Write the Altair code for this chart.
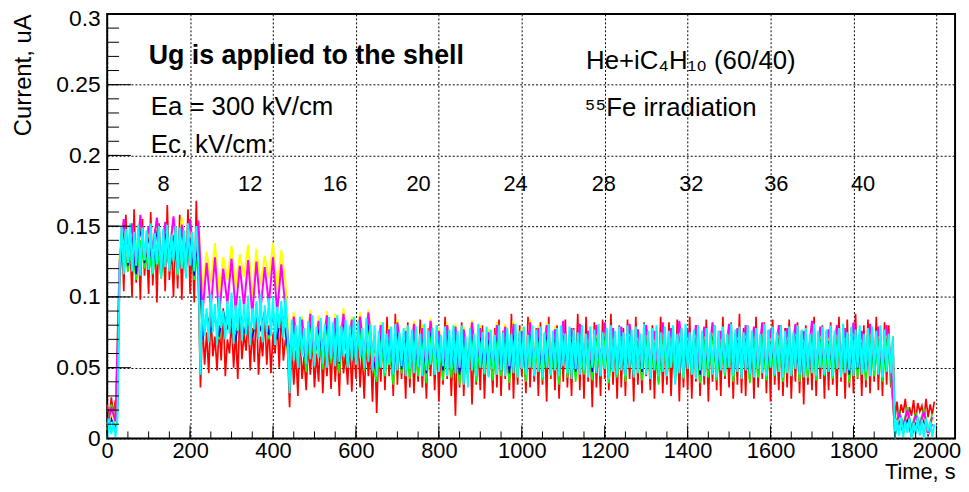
import altair as alt
import pandas as pd

FONT = "Liberation Sans"

# ---------------- data (current in units of 0.001 uA) ----------------
STEP_FINE = 5      # s  (red, cyan)
STEP_COARSE = 10   # s  (green, blue, yellow, magenta)
seg_start_fine = [0, 30, 225, 440, 1900]
seg_start_coarse = [0, 30, 230, 440, 1900]

red_base = [24, 14, 29, 17, 27, 19]
red_ec8 = [112, 150, 104, 158, 118, 140, 100, 162, 110, 145, 98, 155, 115, 138, 102, 160, 108, 148, 96, 152,
           120, 142, 104, 165, 112, 136, 100, 150, 106, 158, 98, 144, 114, 162, 102, 140, 96, 168, 108]
red_ec12 = [36, 82, 52, 75, 46, 88, 58, 72, 48, 80, 55, 92, 44, 70, 60, 84, 50, 76, 42, 90,
            56, 74, 62, 86, 48, 78, 54, 95, 45, 72, 58, 88, 52, 80, 46, 74, 60, 85, 50, 92, 55, 70, 64]
red_main = [22, 70, 38, 62, 30, 75, 42, 58, 34, 68, 45, 72, 36, 60, 40, 78, 32, 65, 44, 70,
            35, 74, 40, 66, 30, 80, 46, 60, 38, 72, 33, 68, 42, 76, 36, 62, 28, 70, 44, 64,
            26, 72, 18, 66, 40, 80, 34, 86, 44, 70, 30, 88, 38, 74, 42, 68, 28, 82, 36, 76,
            32, 70, 40, 84, 36, 66, 28, 78, 44, 72, 34, 80, 26, 68, 38, 86, 42, 74, 30, 70,
            16, 74, 36, 82, 30, 68, 42, 76, 24, 70, 38, 62, 34, 80, 28, 72, 44, 66, 32, 78,
            36, 84, 30, 76, 42, 70, 34, 88, 28, 74, 38, 80, 44, 68, 32, 86, 36, 72, 40, 78,
            30, 82, 38, 74, 26, 86, 42, 70, 34, 80, 28, 76, 40, 84, 36, 72, 30, 78, 44, 88,
            34, 80, 28, 86, 40, 74, 22, 82, 36, 70, 30, 84, 42, 76, 34, 88, 38, 72, 28, 80,
            36, 78, 30, 84, 42, 72, 26, 86, 38, 74, 32, 82, 44, 70, 34, 80, 28, 76, 40, 86,
            32, 74, 38, 82, 30, 70, 42, 84, 26, 78, 36, 72, 34, 86, 28, 76, 40, 80, 30, 74,
            38, 84, 26, 72, 40, 80, 34, 76, 30, 86, 42, 70, 36, 82, 28, 74, 38, 88, 32, 78,
            30, 80, 40, 74, 28, 86, 36, 72, 42, 82, 32, 76, 26, 84, 38, 70, 34, 80, 30, 78,
            36, 84, 28, 72, 40, 82, 32, 76, 24, 80, 38, 70, 34, 86, 30, 74, 42, 80, 28, 76,
            34, 82, 38, 76, 30, 86, 40, 72, 28, 84, 36, 78, 32, 88, 42, 74, 30, 80, 36, 84,
            32, 78, 40, 86, 34, 74, 30, 82, 38, 80, 36, 72]
red_tail = [14, 26, 12, 24, 18, 28, 13, 22, 16, 27, 12, 25, 19, 23, 14, 28, 15, 24, 17, 26]

cyan_base = [0, 14, 3, 12, 1, 15]
cyan_ec8 = [120, 150, 116, 148, 124, 152, 118, 146, 122, 151, 115, 149, 126, 147, 119, 152, 117, 145, 123, 150,
            114, 148, 121, 151, 118, 144, 125, 150, 116, 149, 120, 147, 113, 152, 122, 146, 118, 150, 124]
cyan_ec12 = [45, 98, 72, 92, 68, 102, 75, 95, 66, 100, 78, 90, 70, 97, 74, 103, 67, 94, 76, 99,
             69, 95, 73, 101, 66, 92, 77, 97, 70, 102, 68, 94, 75, 99, 72, 100, 66, 93, 78, 97, 71, 99, 74]
cyan_main = [32, 84, 55, 80, 50, 86, 58, 78, 52, 83, 56, 87, 51, 79, 57, 85, 53, 81, 50, 86,
             56, 82, 51, 87, 54, 79, 58, 84, 50, 80, 55, 86, 52, 83, 57, 78, 50, 85, 54, 81,
             48, 80, 44, 76, 50, 82, 46, 74, 52, 79, 45, 81, 48, 75, 51, 78, 44, 80, 49, 77,
             46, 79, 50, 74, 44, 81, 48, 76, 52, 78, 45, 80, 47, 73, 51, 79, 44, 77, 49, 80,
             46, 76, 50, 80, 38, 72, 36, 78, 48, 74, 44, 81, 50, 75, 46, 79, 43, 77, 49, 73,
             45, 80, 48, 75, 44, 78, 51, 74, 46, 81, 43, 76, 49, 79, 45, 73, 50, 80, 44, 77,
             47, 79, 43, 75, 50, 81, 45, 76, 48, 78, 44, 80, 51, 74, 46, 79, 42, 77, 49, 75,
             45, 80, 48, 74, 43, 79, 50, 77, 46, 81, 44, 75, 49, 78, 42, 80, 47, 76, 45, 79,
             48, 75, 44, 80, 50, 77, 43, 79, 46, 74, 49, 81, 45, 76, 42, 78, 48, 80, 44, 75,
             47, 79, 44, 76, 50, 80, 38, 74, 46, 78, 43, 81, 49, 75, 45, 77, 42, 80, 48, 76,
             44, 78, 49, 75, 45, 80, 43, 76, 48, 79, 46, 74, 50, 81, 44, 77, 47, 79, 42, 75,
             48, 80, 45, 76, 43, 78, 49, 74, 46, 81, 44, 77, 50, 79, 45, 75, 47, 80, 43, 76,
             46, 79, 44, 75, 49, 80, 45, 77, 43, 78, 48, 74, 46, 81, 44, 76, 50, 79, 45, 77,
             47, 80, 44, 76, 49, 78, 43, 81, 46, 75, 48, 79, 44, 77, 50, 80, 45, 74, 47, 78,
             44, 79, 48, 76, 45, 80, 43, 77, 47, 74, 46, 72]
cyan_tail = [0, 13, 2, 15, 1, 12, 4, 14, 0, 11, 3, 15, 2, 13, 0, 14, 5, 12, 1, 10]

magenta_base = [8, 22, 12]
magenta_ec8 = [125, 155, 130, 152, 122, 158, 128, 150, 134, 156, 124, 153, 130, 157, 126, 151, 132, 155, 123, 154]
magenta_ec12 = [88, 124, 92, 128, 86, 120, 95, 127, 90, 122, 93, 126, 87, 125, 91, 121, 95, 128, 89, 123, 92]
magenta_main = [58, 86, 62, 84, 56, 88, 60, 83, 64, 87, 57, 85, 61, 88, 59, 84, 63, 86, 58, 89, 60,
                52, 80, 56, 77, 50, 82, 58, 76, 54, 81, 55, 78, 51, 83, 57, 76, 53, 80, 56, 79,
                50, 77, 54, 82, 52, 78, 57, 75, 53, 80, 56, 79, 51, 81, 55, 76, 52, 82, 57, 78,
                53, 80, 56, 77, 50, 83, 55, 78, 52, 81, 57, 76, 53, 80, 56, 82, 51, 78, 55, 79,
                52, 81, 57, 77, 53, 80, 55, 76, 50, 82, 56, 78, 52, 83, 54, 77, 57, 80, 51, 79,
                55, 82, 53, 76, 56, 81, 52, 78, 57, 80, 51, 79, 55, 82, 53, 77, 56, 80, 52, 78,
                57, 81, 52, 76, 55, 83, 53, 79, 56, 77, 54, 80, 57, 78, 51, 82, 55, 76, 53, 81,
                56, 79, 52, 80, 55]
magenta_tail = [5, 18, 8, 20, 6, 16, 9, 19, 4, 15]

yellow_base = [6, 20, 10]
yellow_ec8 = [128, 154, 124, 150, 132, 156, 126, 148, 130, 155, 122, 152, 134, 149, 127, 156, 131, 151, 125, 153]
yellow_ec12 = [104, 132, 110, 138, 102, 128, 112, 136, 106, 130, 114, 137, 100, 134, 108, 129, 113, 138, 105, 133, 110]
yellow_main = [60, 89, 64, 86, 58, 91, 62, 87, 66, 90, 59, 88, 63, 92, 61, 86, 65, 89, 60, 91, 62,
               55, 82, 58, 79, 52, 84, 60, 78, 56, 83, 57, 80, 53, 85, 59, 78, 55, 82, 58, 81,
               52, 79, 56, 84, 54, 80, 59, 77, 55, 82, 58, 81, 53, 83, 57, 78, 54, 84, 59, 80,
               55, 82, 58, 79, 52, 80, 57, 77, 54, 79, 56, 75, 52, 78, 55, 80, 50, 76, 54, 77,
               51, 79, 56, 75, 52, 78, 54, 74, 49, 80, 55, 76, 51, 80, 53, 75, 56, 78, 50, 77,
               54, 80, 52, 74, 55, 79, 51, 76, 56, 78, 50, 77, 54, 80, 52, 75, 55, 78, 51, 76,
               56, 79, 51, 74, 54, 81, 52, 77, 55, 75, 53, 78, 56, 76, 50, 80, 54, 74, 52, 79,
               55, 77, 51, 78, 54]
yellow_tail = [4, 16, 7, 18, 5, 14, 8, 17, 3, 13]

green_base = [10, 24, 14]
green_ec8 = [114, 138, 118, 135, 112, 140, 120, 132, 116, 137, 113, 134, 121, 139, 115, 133, 119, 138, 112, 136]
green_ec12 = [72, 88, 76, 85, 70, 90, 78, 86, 73, 89, 75, 84, 71, 88, 77, 86, 70, 90, 74, 87, 76]
green_main = [48, 80, 52, 76, 47, 82, 54, 78, 49, 81, 53, 77, 46, 83, 51, 79, 55, 76, 48, 80, 52,
              40, 72, 44, 68, 38, 74, 46, 70, 42, 73, 44, 70, 39, 75, 45, 68, 41, 72, 43, 71,
              38, 69, 42, 74, 40, 70, 45, 67, 41, 72, 44, 71, 39, 73, 43, 68, 40, 74, 45, 70,
              41, 72, 44, 69, 38, 75, 43, 70, 40, 73, 45, 68, 41, 72, 44, 74, 39, 70, 43, 71,
              40, 73, 45, 69, 41, 72, 43, 68, 38, 74, 44, 70, 40, 75, 42, 69, 45, 72, 39, 71,
              43, 74, 41, 68, 44, 73, 40, 70, 45, 72, 39, 71, 43, 74, 41, 69, 44, 72, 40, 70,
              45, 73, 40, 68, 43, 75, 41, 71, 44, 69, 42, 72, 45, 70, 39, 74, 43, 68, 41, 73,
              44, 71, 40, 72, 43]
green_tail = [7, 20, 10, 22, 8, 18, 11, 21, 6, 17]

blue_base = [3, 14, 6]
blue_ec8 = [118, 148, 122, 145, 116, 150, 124, 143, 120, 149, 117, 146, 125, 144, 119, 150, 121, 142, 115, 147]
blue_ec12 = [70, 88, 76, 85, 72, 90, 78, 84, 69, 89, 74, 87, 71, 85, 77, 90, 73, 86, 70, 91, 75]
blue_main = [54, 84, 58, 80, 52, 85, 57, 79, 55, 83, 59, 81, 53, 86, 56, 78, 58, 84, 54, 82, 57,
             47, 76, 51, 73, 45, 78, 49, 72, 53, 77, 50, 74, 46, 79, 52, 72, 48, 77, 51, 75,
             45, 73, 52, 78, 49, 74, 47, 71, 50, 76, 48, 77, 46, 75, 51, 72, 47, 78, 52, 74,
             46, 76, 50, 73, 45, 79, 49, 74, 47, 77, 51, 72, 47, 76, 50, 78, 45, 74, 49, 75,
             46, 77, 51, 73, 47, 76, 49, 72, 45, 78, 50, 74, 46, 79, 48, 73, 51, 76, 45, 75,
             49, 78, 47, 72, 50, 77, 46, 74, 51, 76, 45, 75, 49, 78, 47, 73, 50, 76, 46, 74,
             51, 77, 46, 72, 49, 79, 47, 75, 50, 73, 48, 76, 51, 74, 45, 78, 49, 72, 47, 77,
             50, 75, 46, 76, 49]
blue_tail = [2, 12, 4, 14, 1, 11, 5, 13, 2, 10]

# axis tick values and annotation labels
x_major = [0, 200, 400, 600, 800, 1000, 1200, 1400, 1600, 1800, 2000]
x_minor = [k * 50 for k in range(41)]
y_major = [0, 0.05, 0.1, 0.15, 0.2, 0.25, 0.3]
y_minor = [k / 100 for k in range(31)]
ec_values = ["8", "12", "16", "20", "24", "28", "32", "36", "40"]
ec_label_time = [136, 345, 550, 751, 985, 1198, 1409, 1614, 1823]


def build(segments, starts, step):
    rows = []
    for seg, st in zip(segments, starts):
        for k, v in enumerate(seg):
            rows.append({"t": st + step * k, "i": v / 1000.0})
    return pd.DataFrame(rows)


# (colour, stroke width, data) in drawing order
series = [
    ("#ff0000", 1.7, build([red_base, red_ec8, red_ec12, red_main, red_tail], seg_start_fine, STEP_FINE)),
    ("#00ff00", 1.7, build([green_base, green_ec8, green_ec12, green_main, green_tail], seg_start_coarse, STEP_COARSE)),
    ("#0000ff", 1.5, build([blue_base, blue_ec8, blue_ec12, blue_main, blue_tail], seg_start_coarse, STEP_COARSE)),
    ("#ffff00", 2.0, build([yellow_base, yellow_ec8, yellow_ec12, yellow_main, yellow_tail], seg_start_coarse, STEP_COARSE)),
    ("#ff00ff", 2.0, build([magenta_base, magenta_ec8, magenta_ec12, magenta_main, magenta_tail], seg_start_coarse, STEP_COARSE)),
    ("#00ffff", 2.0, build([cyan_base, cyan_ec8, cyan_ec12, cyan_main, cyan_tail], seg_start_fine, STEP_FINE)),
]

W, H = 855, 428

xs = alt.Scale(domain=[0, 2045], nice=False, zero=False)
ys = alt.Scale(domain=[0, 0.3], nice=False, zero=False)

xa = alt.Axis(values=x_major, format="d", title="Time, s",
              labelFont=FONT, labelFontSize=22, labelColor="black", labelPadding=2,
              labelFlush=False, labelOverlap=False, ticks=False, tickSize=0, domain=False,
              grid=True, gridColor="black", gridDash=[2, 2], gridWidth=1, gridOpacity=1,
              titleFont=FONT, titleFontSize=22, titleFontWeight="normal", titleColor="black",
              titleAnchor="end", titleAlign="right", titleBaseline="alphabetic",
              titleX=W, titleY=40)
ya = alt.Axis(values=y_major, format="~g", title="Current, uA",
              labelFont=FONT, labelFontSize=23, labelColor="black", labelPadding=7,
              labelOffset={"condition": {"test": "datum.value >= 0.29", "value": 5}, "value": 0},
              labelFlush=False, labelOverlap=False, ticks=False, tickSize=0, domain=False,
              grid=True, gridColor="black", gridDash=[2, 2], gridWidth=1, gridOpacity=1,
              titleFont=FONT, titleFontSize=24, titleFontWeight="normal", titleColor="black",
              titleAnchor="end", titleAlign="right", titleBaseline="alphabetic",
              titleAngle=270, titleX=-77, titleY=0)

X = alt.X("t:Q", scale=xs, axis=xa)
Y = alt.Y("i:Q", scale=ys, axis=ya)

layers = []
for color, width, df in series:
    layers.append(alt.Chart(df).mark_line(color=color, strokeWidth=width, interpolate="linear")
                  .encode(x=X, y=Y))

# inward ticks
layers.append(alt.Chart(pd.DataFrame({"i": y_major})).mark_rule(color="black", strokeWidth=1)
              .encode(y=Y, x=alt.value(0), x2=alt.value(24)))
layers.append(alt.Chart(pd.DataFrame({"i": y_minor})).mark_rule(color="black", strokeWidth=1)
              .encode(y=Y, x=alt.value(0), x2=alt.value(12)))
layers.append(alt.Chart(pd.DataFrame({"t": x_major})).mark_rule(color="black", strokeWidth=1)
              .encode(x=X, y=alt.value(H), y2=alt.value(H - 13)))
layers.append(alt.Chart(pd.DataFrame({"t": x_minor})).mark_rule(color="black", strokeWidth=1)
              .encode(x=X, y=alt.value(H), y2=alt.value(H - 7)))


# annotations
def note(t, i, text, size, weight="normal", align="left"):
    return (alt.Chart(pd.DataFrame({"t": [t], "i": [i]}))
            .mark_text(text=text, font=FONT, fontSize=size, fontWeight=weight, color="black",
                       align=align, baseline="alphabetic")
            .encode(x=X, y=Y))


layers.append(note(100, 0.2643, "Ug is applied to the shell", 27, "bold"))
layers.append(note(105, 0.2285, "Ea = 300 kV/cm", 26))
layers.append(note(105, 0.2019, "Ec, kV/cm:", 26))
layers.append(note(1155, 0.2614, "He+iC\u2084H\u2081\u2080 (60/40)", 26))
layers.append(note(1152, 0.2278, "\u2075\u2075Fe irradiation", 26))

ec_df = pd.DataFrame({"t": ec_label_time, "i": [0.1752] * len(ec_label_time), "label": ec_values})
layers.append(alt.Chart(ec_df).mark_text(font=FONT, fontSize=22, color="black", align="center",
                                         baseline="alphabetic")
              .encode(x=X, y=Y, text="label:N"))

chart = (alt.layer(*layers)
         .properties(width=W, height=H, autosize=alt.AutoSizeParams(type="none"),
                     padding={"left": 100, "top": 4, "right": 6, "bottom": 44},
                     background="white")
         .configure_view(stroke="black", strokeWidth=2))

chart.save("out.html", embed_options={"renderer": "svg", "actions": False})
